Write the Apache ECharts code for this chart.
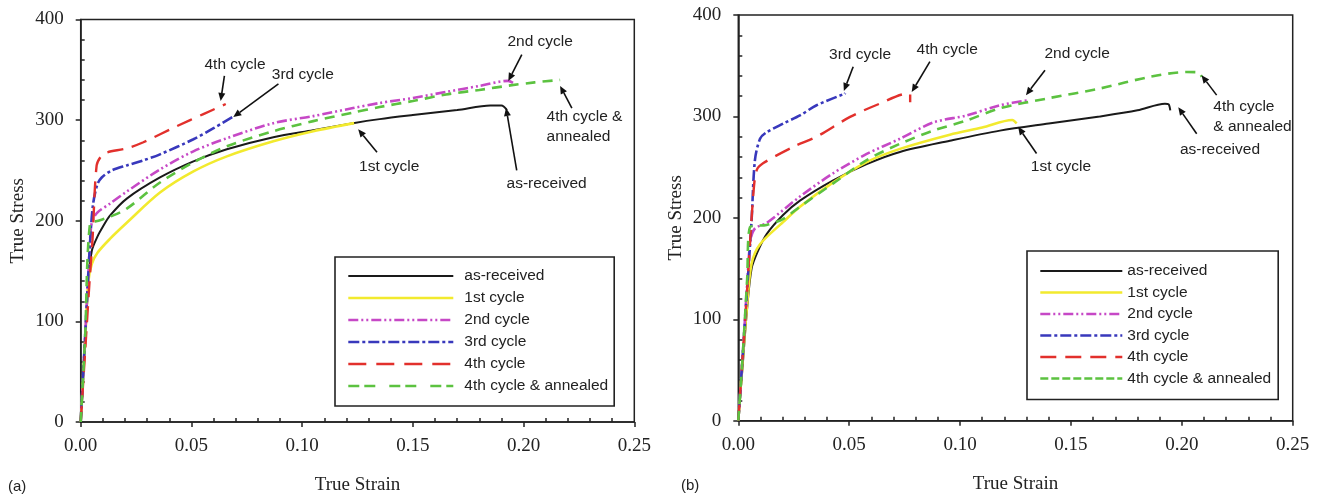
<!DOCTYPE html>
<html>
<head>
<meta charset="utf-8">
<script src="https://cdn.jsdelivr.net/npm/echarts@6/dist/echarts.min.js"></script>
<style>
  html, body { margin: 0; padding: 0; background: #fff; }
  #chart { width: 1322px; height: 500px; }
</style>
</head>
<body>
<div id="chart"></div>
<script>
// True stress vs. true strain, panels (a) and (b): [strain, stress] pairs per curve
const seriesNames = ['as-received', '1st cycle', '2nd cycle', '3rd cycle', '4th cycle', '4th cycle & annealed'];

// Panel (a)
const asReceivedA = [[0,0],[0.002,80],[0.0035,140],[0.005,170],[0.0075,184],[0.01,194],[0.0132,205],[0.0208,222],[0.0358,243],[0.0509,259],[0.066,271],[0.087,283],[0.105,290],[0.123,297],[0.135,301],[0.15,305],[0.17,310],[0.185,314.5],[0.19,314.5],[0.1925,310]];
const firstCycleA = [[0,0],[0.002,80],[0.0035,140],[0.005,157],[0.0075,168],[0.0132,182],[0.0208,198],[0.0358,228],[0.0509,249],[0.066,264],[0.087,279],[0.105,289],[0.1235,297]];
const secondCycleA = [[0,0],[0.002,85],[0.004,170],[0.005,198],[0.0075,208],[0.0132,217],[0.0208,229],[0.0358,251],[0.0509,269],[0.066,282],[0.087,297],[0.105,304],[0.123,312],[0.135,317],[0.15,322],[0.165,328],[0.18,334],[0.193,339],[0.196,336]];
const thirdCycleA = [[0,0],[0.002,85],[0.004,170],[0.0055,215],[0.0075,236],[0.0095,243],[0.014,250],[0.0208,255],[0.0283,260],[0.0358,266],[0.0509,281],[0.06,292],[0.0685,303]];
const fourthCycleA = [[0,0],[0.002,70],[0.004,140],[0.0053,180],[0.0072,255],[0.0095,265],[0.012,268],[0.0208,272],[0.0283,278],[0.0434,294],[0.0554,306],[0.0655,316]];
const annealedA = [[0,0],[0.002,85],[0.0042,197],[0.008,200],[0.0132,204],[0.0208,212],[0.0358,238],[0.0509,258],[0.066,274],[0.087,289],[0.105,299],[0.123,307.5],[0.135,313],[0.15,319],[0.165,325.5],[0.18,330],[0.194,334.5],[0.205,337.5],[0.2165,340]];

// Panel (b)
const asReceivedB = [[0,0],[0.002,55],[0.0038,106],[0.006,150],[0.009,168],[0.0128,184],[0.0203,203],[0.0278,217],[0.0428,237],[0.0579,253],[0.0729,265],[0.0954,276],[0.118,286],[0.14,293],[0.163,300],[0.18,306],[0.1924,312.5],[0.194,312],[0.1948,306]];
const firstCycleB = [[0,0],[0.002,60],[0.004,115],[0.006,155],[0.0098,174],[0.0203,196],[0.0278,211],[0.0428,235],[0.0579,255],[0.0729,268],[0.0954,282],[0.11,289],[0.1235,296.5],[0.1255,293]];
const secondCycleB = [[0,0],[0.002,65],[0.004,135],[0.0055,178],[0.0075,189.5],[0.0128,195],[0.0278,221],[0.0428,244],[0.0579,263],[0.0729,278],[0.0879,294],[0.103,301],[0.118,311],[0.131,316]];
const thirdCycleB = [[0,0],[0.002,65],[0.004,130],[0.006,198],[0.0075,257],[0.0098,278],[0.0125,284],[0.0203,293],[0.0278,301],[0.0353,311],[0.0481,322.5]];
const fourthCycleB = [[0,0],[0.002,65],[0.004,130],[0.0068,224],[0.0083,247],[0.0113,254],[0.0248,270],[0.0353,280],[0.0504,299.5],[0.0639,312.7],[0.0765,322.5],[0.0775,322],[0.0775,314]];
const annealedB = [[0,0],[0.002,65],[0.004,140],[0.0053,191],[0.0128,193],[0.0203,199],[0.0278,211],[0.0428,234],[0.0579,257],[0.0729,273],[0.0879,286],[0.103,296],[0.118,308],[0.14,318],[0.163,327.5],[0.1856,339],[0.2022,343.8],[0.2074,343.5],[0.209,339]];

// Axis ranges and tick labels
const xMin = 0, xMax = 0.25, xStep = 0.05;
const yMin = 0, yMax = 400, yStep = 100;
const xTickLabels = ['0.00', '0.05', '0.10', '0.15', '0.20', '0.25'];
const yTickLabels = ['0', '100', '200', '300', '400'];

// Callout labels with arrows (data coordinates)
const calloutsA = [
  { text: '4th cycle', at: [0.0697, 355], from: [0.0649, 344], to: [0.0632, 319] },
  { text: '3rd cycle', at: [0.1003, 345], from: [0.0893, 336], to: [0.0689, 303] },
  { text: '2nd cycle', at: [0.2075, 378], from: [0.1992, 365], to: [0.1931, 339] },
  { text: '4th cycle &\nannealed', at: [0.2104, 293], from: [0.2218, 312], to: [0.2165, 334], align: 'left' },
  { text: '1st cycle', at: [0.1393, 254], from: [0.1338, 268], to: [0.1253, 291] },
  { text: 'as-received', at: [0.2104, 237], from: [0.1969, 250], to: [0.1921, 312] }
];
const calloutsB = [
  { text: '3rd cycle', at: [0.0549, 361], from: [0.0518, 349], to: [0.0476, 325] },
  { text: '4th cycle', at: [0.0942, 366], from: [0.0864, 354], to: [0.0782, 324] },
  { text: '2nd cycle', at: [0.1528, 362], from: [0.1383, 345.5], to: [0.1297, 321] },
  { text: '4th cycle\n& annealed', at: [0.2142, 299.5], from: [0.2157, 321], to: [0.2089, 340.6], align: 'left' },
  { text: 'as-received', at: [0.2172, 267.6], from: [0.2067, 283], to: [0.1984, 309] },
  { text: '1st cycle', at: [0.1455, 250.5], from: [0.1345, 263.4], to: [0.1262, 289.7] }
];

const panelA = [asReceivedA, firstCycleA, secondCycleA, thirdCycleA, fourthCycleA, annealedA];
const panelB = [asReceivedB, firstCycleB, secondCycleB, thirdCycleB, fourthCycleB, annealedB];

const styles = [
  { color: '#1a1a1a', width: 2, type: 'solid' },
  { color: '#f2ea2e', width: 2.6, type: 'solid' },
  { color: '#c648c6', width: 2.6, type: [10, 3, 2, 3, 2, 3] },
  { color: '#3838bc', width: 2.6, type: [11, 3, 3, 3] },
  { color: '#e2302c', width: 2.4, type: [16, 9] },
  { color: '#5cc240', width: 2.6, type: [10, 7] }
];

const SERIF = '"Liberation Serif", "Times New Roman", serif';
const SANS = '"Liberation Sans", Arial, sans-serif';

function xAxisFor(gridIndex) {
  return {
    type: 'value', gridIndex, min: xMin, max: xMax, interval: xStep,
    name: 'True Strain', nameLocation: 'middle', nameGap: 54,
    nameTextStyle: { fontFamily: SERIF, fontSize: 19, color: '#222' },
    axisLine: { lineStyle: { color: '#222', width: 1.5 } },
    axisTick: { show: true, length: 5, lineStyle: { color: '#222', width: 1.5 } },
    minorTick: { show: true, splitNumber: 5, length: -4, lineStyle: { color: '#222', width: 1.5 } },
    splitLine: { show: false },
    axisLabel: {
      fontFamily: SERIF, fontSize: 19, color: '#222', margin: 15,
      formatter: v => xTickLabels[Math.round((v - xMin) / xStep)]
    }
  };
}
function yAxisFor(gridIndex) {
  return {
    type: 'value', gridIndex, min: yMin, max: yMax, interval: yStep,
    name: 'True Stress', nameLocation: 'middle', nameGap: 53,
    nameTextStyle: { fontFamily: SERIF, fontSize: 19, color: '#222' },
    axisLine: { show: true, lineStyle: { color: '#222', width: 1.5 } },
    axisTick: { show: true, length: 5, lineStyle: { color: '#222', width: 1.5 } },
    minorTick: { show: true, splitNumber: 5, length: -4, lineStyle: { color: '#222', width: 1.5 } },
    splitLine: { show: false },
    axisLabel: {
      fontFamily: SERIF, fontSize: 19, color: '#222', margin: 17,
      formatter: v => yTickLabels[Math.round((v - yMin) / yStep)]
    }
  };
}

function lineSeries(data, i, gridIndex) {
  const s = styles[i];
  return {
    type: 'line', name: seriesNames[i], data,
    xAxisIndex: gridIndex, yAxisIndex: gridIndex,
    symbol: 'none', smooth: 0.3, z: 3 + i,
    lineStyle: { color: s.color, width: s.width, type: s.type },
    itemStyle: { color: s.color },
    animation: false
  };
}

// Boxed legend drawn as line samples only (no marker dot)
function legendFor(left, top, itemWidth, itemGap, padding, textPad, dashes) {
  return {
    orient: 'vertical', left, top, itemWidth, itemHeight: 14, itemGap,
    selectedMode: false, padding,
    borderColor: '#222', borderWidth: 1.6, backgroundColor: '#fff',
    itemStyle: { color: 'transparent', borderColor: 'transparent', borderWidth: 0, opacity: 0 },
    textStyle: { fontFamily: SANS, fontSize: 15.5, lineHeight: 14, color: '#222', padding: [0, 0, 0, textPad] },
    data: seriesNames.map((n, i) => ({ name: n, lineStyle: { type: dashes[i], width: styles[i].width } }))
  };
}

const chart = echarts.init(document.getElementById('chart'), null, { renderer: 'canvas' });

const option = {
  backgroundColor: '#fff',
  animation: false,
  grid: [
    { left: 80.7, top: 19.5, width: 553.6, height: 405.5, show: true, borderColor: '#222', borderWidth: 1.5, backgroundColor: 'transparent' },
    { left: 738.3, top: 15, width: 554.4, height: 405.7, show: true, borderColor: '#222', borderWidth: 1.5, backgroundColor: 'transparent' }
  ],
  xAxis: [xAxisFor(0), xAxisFor(1)],
  yAxis: [yAxisFor(0), yAxisFor(1)],
  legend: [
    legendFor(335, 257, 105, 6, [11, 6, 12, 12], 6,
      ['solid', 'solid', [10, 3, 2, 3, 2, 3], [11, 3, 3, 3], [18, 10], [11, 5, 11, 14]]),
    legendFor(1027, 251, 82, 5.5, [12, 7, 13, 12], 0,
      ['solid', 'solid', [10, 3, 2, 3, 2, 3], [11, 3, 3, 3], [16, 9], [8, 3]])
  ],
  series: [
    ...panelA.map((d, i) => lineSeries(d, i, 0)),
    ...panelB.map((d, i) => lineSeries(d, i, 1))
  ]
};
chart.setOption(option);

// Callout arrows and labels, positioned through each panel's own axes
function calloutGraphics(list, gridIndex) {
  const out = [];
  list.forEach(c => {
    const p = chart.convertToPixel({ gridIndex }, c.at);
    const a = chart.convertToPixel({ gridIndex }, c.from);
    const b = chart.convertToPixel({ gridIndex }, c.to);
    const ang = Math.atan2(b[1] - a[1], b[0] - a[0]);
    const head = 8, half = 3.5;
    const bx = b[0] - head * Math.cos(ang), by = b[1] - head * Math.sin(ang);
    out.push({
      type: 'line', z: 10,
      shape: { x1: a[0], y1: a[1], x2: bx, y2: by },
      style: { stroke: '#111', lineWidth: 1.6 }
    });
    out.push({
      type: 'polygon', z: 10,
      shape: { points: [
        [b[0], b[1]],
        [bx + half * Math.sin(ang), by - half * Math.cos(ang)],
        [bx - half * Math.sin(ang), by + half * Math.cos(ang)]
      ] },
      style: { fill: '#111' }
    });
    out.push({
      type: 'text', z: 10, x: p[0], y: p[1],
      style: {
        text: c.text, fontFamily: SANS, fontSize: 15.5, fill: '#222',
        align: c.align || 'center', verticalAlign: 'middle', lineHeight: 20
      }
    });
  });
  return out;
}

chart.setOption({
  graphic: [
    ...calloutGraphics(calloutsA, 0),
    ...calloutGraphics(calloutsB, 1),
    { type: 'text', x: 8, y: 487, style: { text: '(a)', fontFamily: SANS, fontSize: 15, fill: '#222', verticalAlign: 'middle' } },
    { type: 'text', x: 681, y: 486, style: { text: '(b)', fontFamily: SANS, fontSize: 15, fill: '#222', verticalAlign: 'middle' } }
  ]
});
</script>
</body>
</html>
